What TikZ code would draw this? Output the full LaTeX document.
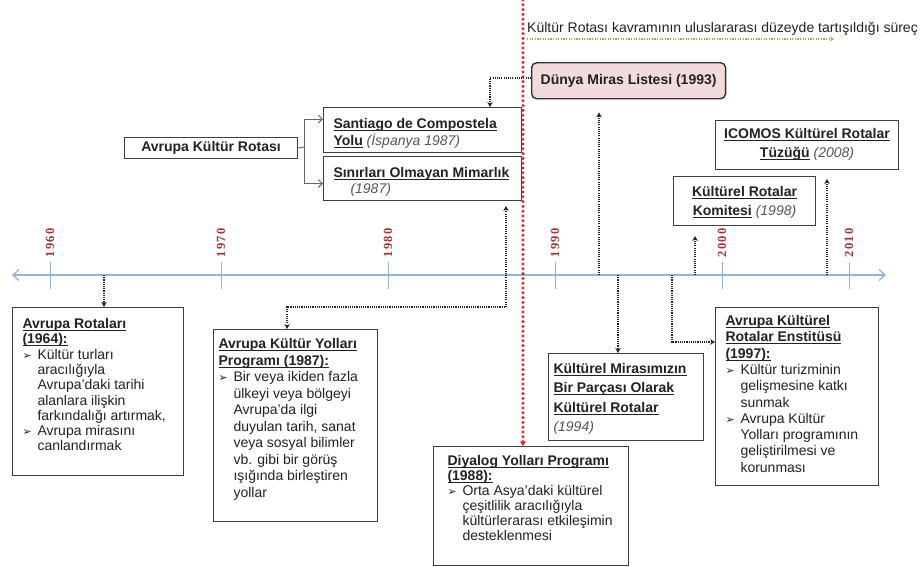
\documentclass[tikz,border=0pt]{standalone}
\usepackage{fontspec}
\setmainfont{Liberation Sans}
\newfontfamily\symfont{DejaVu Sans}
\newfontfamily\yearfont[LetterSpace=10]{Liberation Serif}
\usetikzlibrary{arrows.meta,calc}
\definecolor{axisblue}{HTML}{93B4D8}
\definecolor{yearred}{HTML}{A0353A}
\definecolor{boxline}{HTML}{3F3F3F}
\definecolor{pinkfill}{HTML}{F2DCDB}
\definecolor{dotred}{HTML}{E3231F}
\definecolor{dotgreen}{HTML}{92B64E}
\definecolor{textgray}{HTML}{222222}
\definecolor{yeargray}{HTML}{555555}
\newsavebox\hdsave
\newcommand\hd[1]{\leavevmode\sbox\hdsave{\bfseries #1}\rlap{\vrule height -1.6pt depth 2.6pt width \wd\hdsave}\usebox\hdsave}
\newcommand\yrt[1]{{\itshape\color{yeargray}#1}}
\newcommand\bl{\makebox[15pt][l]{\symfont\fontsize{11}{11}\selectfont ➢}}
\newcommand\ind{\hspace*{15pt}}
\newcommand\tbl[5]{\parbox[c][#2][t]{#1}{\fontsize{14}{#4}\selectfont\lineskiplimit=-30pt\lineskip=0pt\rule{0pt}{#3}#5}}
\newcommand\tbc[5]{\parbox[c][#2][t]{#1}{\centering\fontsize{14}{#4}\selectfont\lineskiplimit=-30pt\lineskip=0pt\rule{0pt}{#3}#5}}
\begin{document}
\begin{tikzpicture}[x=1pt,y=-1pt,
  box/.style={draw=boxline, line width=1pt, fill=white, anchor=north west, inner ysep=0pt, text=textgray},
  conn/.style={draw=black!85, line width=1.1pt, dash pattern=on 1.1pt off 1.1pt, -{Stealth[length=5pt,width=5.5pt]}},
  twoconn/.style={conn, {Stealth[length=5pt,width=5.5pt]}-{Stealth[length=5pt,width=5.5pt]}},
  bracket/.style={draw=black!60, line width=0.9pt, -{Straight Barb[length=4pt,width=8pt]}},
  axis/.style={draw=axisblue, line width=1.3pt, {Straight Barb[length=6pt,width=11pt]}-{Straight Barb[length=6pt,width=11pt]}},
  tick/.style={draw=axisblue, line width=1pt},
  yearlbl/.style={rotate=90, text=yearred, font=\yearfont\bfseries\fontsize{12.5}{12.5}\selectfont, inner sep=0pt},
  reddots/.style={draw=dotred, line width=3.3pt, line cap=round, dash pattern=on 0pt off 4.8pt, -{Stealth[length=5pt,width=6pt]}},
  greendots/.style={draw=dotgreen, line width=1.2pt, dash pattern=on 1.2pt off 1.4pt, -{Stealth[length=4pt,width=5pt]}},
]
\useasboundingbox (0,0) rectangle (923,566);
\fill[white] (0,0) rectangle (923,566);

% timeline
\coordinate (tlL) at (12,275);
\coordinate (tlR) at (886,275);
\draw[axis] (tlL) -- (tlR);
\foreach \x/\y in {50/1960,221/1970,388/1980,555/1990,722/2000,849/2010}{
  \draw[tick] (\x,262) -- (\x,289);
  \node[yearlbl] (yr\y) at (\x,243) {\y};
}

% top label and arrows
\node[anchor=west, inner sep=0pt, text=textgray, font=\fontsize{14}{16}\selectfont] (toplbl) at (527,29) {Kültür Rotası kavramının uluslararası düzeyde tartışıldığı süreç};
\coordinate (gs) at (527,39);
\coordinate (ge) at (834,39);
\draw[greendots] (gs) -- (ge);

% boxes
\node[box, inner xsep=9pt, rounded corners=5pt, fill=pinkfill, line width=1.4pt, draw=black!80, minimum width=189pt, minimum height=36pt, anchor=north west, font=\bfseries\fontsize{14}{16}\selectfont] (dunya) at (531,62) {Dünya Miras Listesi (1993)};

\node[box, inner xsep=0pt, minimum width=173pt, minimum height=21pt, font=\bfseries\fontsize{14}{16}\selectfont] (akr) at (124,137) {Avrupa Kültür Rotası};

\node[box, inner xsep=10pt] (sant) at (323,107) {\tbl{178pt}{45pt}{21pt}{17pt}{\hd{Santiago de Compostela}\\\hd{Yolu} \yrt{(İspanya 1987)}}};
\node[box, inner xsep=10pt] (sin) at (323,156) {\tbl{178pt}{44pt}{21pt}{16pt}{\hd{Sınırları Olmayan Mimarlık}\\\hspace*{17pt}\yrt{(1987)}}};

\node[box, inner xsep=5pt] (ico) at (715,120) {\tbc{173pt}{49pt}{18pt}{19pt}{\hd{ICOMOS Kültürel Rotalar}\\\hd{Tüzüğü} \yrt{(2008)}}};
\node[box, inner xsep=5pt] (kom) at (673,176) {\tbc{132pt}{49pt}{20pt}{18.7pt}{\hd{Kültürel Rotalar}\\\hd{Komitesi} \yrt{(1998)}}};

\node[box, inner xsep=10pt] (rot64) at (12,307) {\tbl{151pt}{168pt}{21pt}{15.3pt}{\hd{Avrupa Rotaları}\\\hd{(1964):}\\\bl Kültür turları\\\ind aracılığıyla\\\ind Avrupa’daki tarihi\\\ind alanlara ilişkin\\\ind farkındalığı artırmak,\\\bl Avrupa mirasını\\\ind canlandırmak}};

\node[box, inner xsep=5pt] (akyp) at (213,329) {\tbl{154pt}{192pt}{19pt}{16.5pt}{\hd{Avrupa Kültür Yolları}\\\hd{Programı (1987):}\\\bl Bir veya ikiden fazla\\\ind ülkeyi veya bölgeyi\\\ind Avrupa’da ilgi\\\ind duyulan tarih, sanat\\\ind veya sosyal bilimler\\\ind vb. gibi bir görüş\\\ind ışığında birleştiren\\\ind yollar}};

\node[box, inner xsep=14pt] (diy) at (433,446) {\tbl{167pt}{119pt}{19pt}{15pt}{\hd{Diyalog Yolları Programı}\\\hd{(1988):}\\\bl Orta Asya’daki kültürel\\\ind çeşitlilik aracılığıyla\\\ind kültürlerarası etkileşimin\\\ind desteklenmesi}};

\node[box, inner xsep=5pt] (kmir) at (548,353) {\tbl{145pt}{87pt}{20pt}{19.3pt}{\hd{Kültürel Mirasımızın}\\\hd{Bir Parçası Olarak}\\\hd{Kültürel Rotalar}\\\yrt{(1994)}}};

\node[box, inner xsep=10pt] (ens) at (715,307) {\tbl{143pt}{178pt}{18pt}{16.3pt}{\hd{Avrupa Kültürel}\\\hd{Rotalar Enstitüsü}\\\hd{(1997):}\\\bl Kültür turizminin\\\ind gelişmesine katkı\\\ind sunmak\\\bl Avrupa Kültür\\\ind Yolları programının\\\ind geliştirilmesi ve\\\ind korunması}};

% bracket connectors
\coordinate (br) at (304,147);
\draw[draw=black!60, line width=0.9pt] (akr.east) -- (br);
\draw[bracket] (br) |- ([yshift=11pt]sant.west);
\draw[bracket] (br) |- ([yshift=-5pt]sin.west);

% red dotted divider
\coordinate (redtop) at (523,0);
\draw[reddots] (redtop) -- (redtop |- diy.north);

% dotted connectors
\coordinate (c78) at (490,78);
\draw[conn] (dunya.west |- c78) -- (c78) -- (c78 |- sant.north);

\coordinate (tA) at (104,275);
\draw[conn] (tA) -- (tA |- rot64.north);

\coordinate (cB) at (506,307);
\coordinate (cC) at (287,307);
\draw[twoconn] ([yshift=-5pt]cB |- sin.south) -- (cB) -- (cC) -- (cC |- akyp.north);

\coordinate (tD) at (599,275);
\draw[conn] (tD) -- ([yshift=-13pt]tD |- dunya.south);

\coordinate (tE) at (618,275);
\draw[conn] (tE) -- (tE |- kmir.north);

\coordinate (tF) at (672,275);
\coordinate (cF) at (672,342);
\draw[conn] (tF) -- (cF) -- (cF -| ens.west);

\coordinate (tG) at (695,275);
\draw[conn] (tG) -- ([yshift=-10pt]tG |- kom.south);

\coordinate (tH) at (827,275);
\draw[conn] (tH) -- ([yshift=-9pt]tH |- ico.south);
\end{tikzpicture}
\end{document}
